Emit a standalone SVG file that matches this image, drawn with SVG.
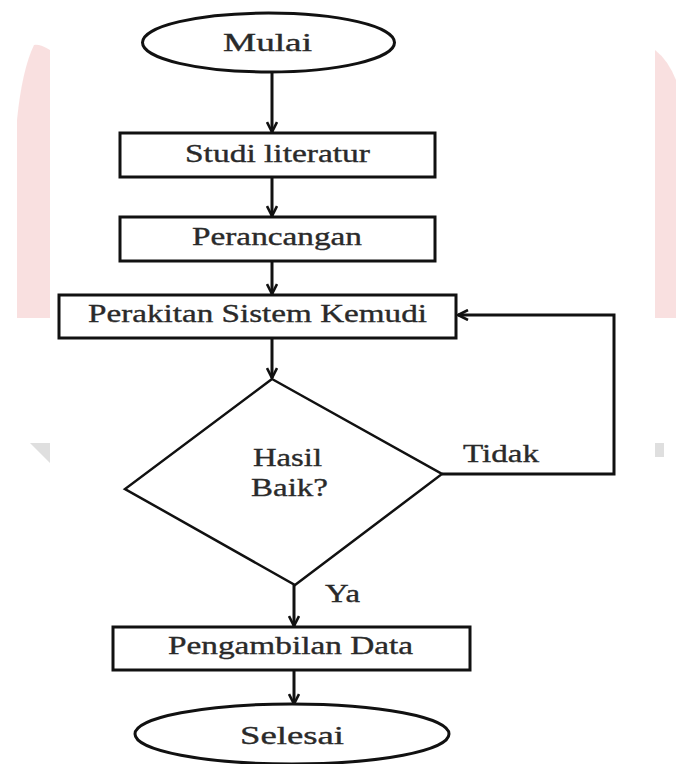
<svg xmlns="http://www.w3.org/2000/svg" width="676" height="764" viewBox="0 0 676 764">
<style>
.shape{fill:#fff;stroke:#111;stroke-width:3}
.dia{fill:#fff;stroke:#111;stroke-width:2.5}
.lbl{font-family:"Liberation Serif","Times New Roman",serif;font-size:25px;fill:#2a2a2a;stroke:#2a2a2a;stroke-width:0.35}
.con{fill:none;stroke:#111;stroke-width:3}
.wm{fill:#f3c2c2;opacity:0.5}
.wg{fill:#c9c9c9;opacity:0.6}
</style>
<defs>
<marker id="arr" viewBox="0 0 12 12" refX="11" refY="6" markerWidth="12" markerHeight="12" markerUnits="userSpaceOnUse" orient="auto">
<path d="M1,1 L11,6 L1,11" fill="none" stroke="#111" stroke-width="2.6"/>
</marker>
</defs>
<rect width="676" height="764" fill="#fff"/>
<g id="watermark">
<path class="wm" d="M34,45 Q40,44 50,50 L50,318 L17,318 L17,120 Q22,70 34,45 Z"/>
<path class="wm" d="M655,50 Q668,60 676,80 L676,318 L655,318 Z"/>
<path class="wg" d="M30,443 L50,443 L50,463 Z"/>
<path class="wg" d="M655,443 L664,443 L664,457 L655,457 Z"/>
</g>
<g id="connectors">
<line class="con" x1="272" y1="72" x2="272" y2="132" marker-end="url(#arr)"/>
<line class="con" x1="272" y1="177" x2="272" y2="216" marker-end="url(#arr)"/>
<line class="con" x1="272" y1="261" x2="272" y2="294" marker-end="url(#arr)"/>
<line class="con" x1="272" y1="338" x2="272" y2="378" marker-end="url(#arr)"/>
<polyline class="con" points="442,474 614,474 614,315 458,315" marker-end="url(#arr)"/>
<line class="con" x1="294" y1="585" x2="294" y2="626" marker-end="url(#arr)"/>
<line class="con" x1="294" y1="670" x2="294" y2="704" marker-end="url(#arr)"/>
<text class="lbl" x="463" y="462" textLength="76" lengthAdjust="spacingAndGlyphs">Tidak</text>
<text class="lbl" x="325" y="602" textLength="35" lengthAdjust="spacingAndGlyphs">Ya</text>
</g>
<g id="mulai">
<ellipse class="shape" cx="268.5" cy="42.5" rx="126" ry="29.5"/>
<text class="lbl" x="223" y="51" textLength="89" lengthAdjust="spacingAndGlyphs">Mulai</text>
</g>
<g id="studi">
<rect class="shape" x="120" y="133" width="315" height="44"/>
<text class="lbl" x="185" y="162" textLength="185" lengthAdjust="spacingAndGlyphs">Studi literatur</text>
</g>
<g id="perancangan">
<rect class="shape" x="120" y="217" width="315" height="44"/>
<text class="lbl" x="192" y="245" textLength="170" lengthAdjust="spacingAndGlyphs">Perancangan</text>
</g>
<g id="perakitan">
<rect class="shape" x="59" y="295" width="397" height="43"/>
<text class="lbl" x="88" y="322" textLength="339" lengthAdjust="spacingAndGlyphs">Perakitan Sistem Kemudi</text>
</g>
<g id="keputusan">
<polygon class="dia" points="272,379 442,474 295,585 125,489"/>
<text class="lbl" x="253" y="466" textLength="69" lengthAdjust="spacingAndGlyphs">Hasil</text>
<text class="lbl" x="251" y="496" textLength="77" lengthAdjust="spacingAndGlyphs">Baik?</text>
</g>
<g id="pengambilan">
<rect class="shape" x="113" y="627" width="357" height="43"/>
<text class="lbl" x="168" y="654" textLength="245" lengthAdjust="spacingAndGlyphs">Pengambilan Data</text>
</g>
<g id="selesai">
<ellipse class="shape" cx="292" cy="734" rx="157" ry="30"/>
<text class="lbl" x="240" y="744" textLength="104" lengthAdjust="spacingAndGlyphs">Selesai</text>
</g>
</svg>
